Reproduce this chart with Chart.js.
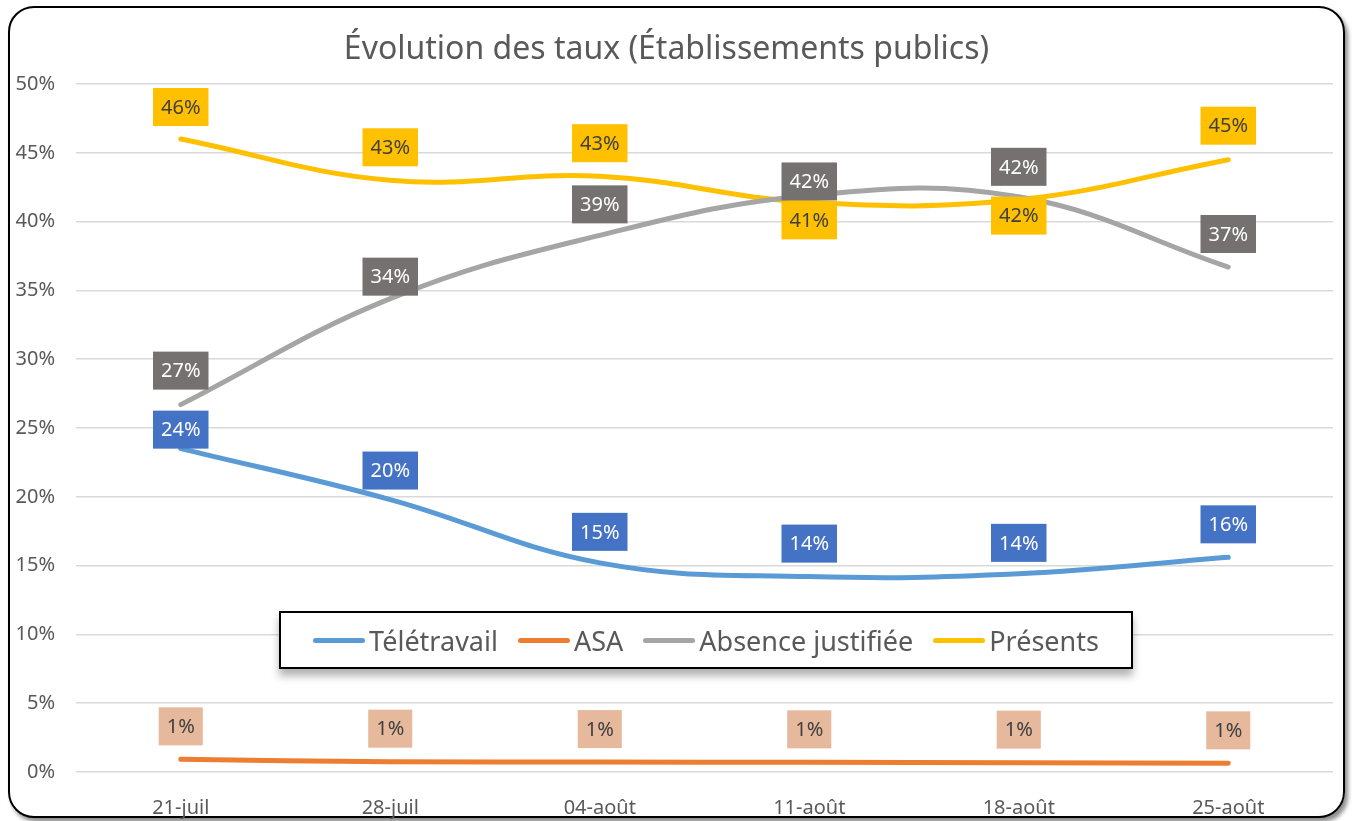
<!DOCTYPE html>
<html>
<head>
<meta charset="utf-8">
<script src="https://cdn.jsdelivr.net/npm/chart.js@4.4.1/dist/chart.umd.min.js"></script>
<style>
  body { margin: 0; background: #fff; font-family: "Noto Sans", sans-serif; }
  #wrap { position: relative; width: 1352px; height: 821px; overflow: hidden; }
  #frame {
    position: absolute; left: 8px; top: 6px; width: 1333px; height: 808px;
    border: 2px solid #000; border-radius: 26px;
    box-shadow: 3px 4px 4px rgba(0,0,0,0.45);
  }
  #chart { position: absolute; left: 0; top: 0; }
  #legend {
    position: absolute; left: 279px; top: 611px; width: 850px; height: 54px;
    border: 2px solid #000; background: #fff;
    box-shadow: 0 7px 8px rgba(0,0,0,0.3);
    display: flex; align-items: center; justify-content: center; gap: 20px;
    font-size: 27px; color: #595959;
  }
  .item { display: flex; align-items: center; }
  .swatch { width: 52px; height: 5px; border-radius: 3px; margin-right: 4px; }
</style>
</head>
<body>
<div id="wrap">
  <div id="frame"></div>
  <canvas id="chart" width="1352" height="821"></canvas>
  <div id="legend"></div>
</div>
<script>
const dates = ["21-juil", "28-juil", "04-août", "11-août", "18-août", "25-août"];

const teletravail = [23.5, 19.8, 15.2, 14.2, 14.4, 15.6];
const asa = [0.92, 0.75, 0.72, 0.7, 0.68, 0.63];
const absence = [26.7, 34.4, 39.0, 41.9, 41.8, 36.7];
const presents = [46.0, 43.0, 43.3, 41.4, 41.6, 44.5];

// label box vertical shift from the point (px), negative = above
const shiftTele = [-19, -29, -31, -33, -31, -33];
const shiftAsa = [-33, -33, -33, -33, -33, -33];
const shiftAbs = [-34, -22, -31, -14, -30, -33];
const shiftPres = [-32, -33, -33, 18, 16, -34];

const FONT = "Noto Sans";

const series = [
  { label: "Télétravail", data: teletravail, color: "#5B9BD5", bg: "#4472C4", text: "#ffffff", shift: shiftTele },
  { label: "ASA", data: asa, color: "#ED7D31", bg: "#E6B89C", text: "#404040", shift: shiftAsa },
  { label: "Absence justifiée", data: absence, color: "#A5A5A5", bg: "#767171", text: "#ffffff", shift: shiftAbs },
  { label: "Présents", data: presents, color: "#FFC000", bg: "#FFC000", text: "#404040", shift: shiftPres }
];

const boxLabels = {
  id: "boxLabels",
  afterDatasetsDraw(chart) {
    const ctx = chart.ctx;
    ctx.save();
    ctx.font = "20px '" + FONT + "'";
    ctx.textAlign = "center";
    ctx.textBaseline = "middle";
    chart.data.datasets.forEach((ds, di) => {
      const s = series[di];
      chart.getDatasetMeta(di).data.forEach((pt, i) => {
        const txt = Math.round(ds.data[i]) + "%";
        const w = ctx.measureText(txt).width + 16;
        const h = 38;
        const cy = pt.y + s.shift[i];
        ctx.fillStyle = s.bg;
        ctx.fillRect(pt.x - w / 2, cy - h / 2, w, h);
        ctx.fillStyle = s.text;
        ctx.fillText(txt, pt.x, cy + 1);
      });
    });
    ctx.restore();
  }
};

const chart = new Chart(document.getElementById("chart"), {
  type: "line",
  data: {
    labels: dates,
    datasets: series.map(s => ({
      label: s.label,
      data: s.data,
      borderColor: s.color,
      backgroundColor: s.color,
      borderWidth: 5,
      borderCapStyle: "round",
      pointRadius: 0,
      tension: 0.4,
      fill: false
    }))
  },
  options: {
    responsive: false,
    animation: false,
    layout: { padding: { top: 31, left: 0, right: 19, bottom: 0 } },
    plugins: {
      legend: { display: false },
      tooltip: { enabled: false },
      title: {
        display: true,
        text: "Évolution des taux (Établissements publics)",
        color: "#595959",
        font: { family: FONT, size: 32, weight: "normal", lineHeight: 1.2 },
        padding: { top: 0, bottom: 14.6 }
      }
    },
    scales: {
      x: {
        offset: true,
        grid: { display: false },
        border: { display: false },
        ticks: { color: "#595959", font: { family: FONT, size: 20 }, padding: 16 },
        afterFit(scale) { scale.height = 49; }
      },
      y: {
        min: 0, max: 50,
        grid: { color: "#D9D9D9", lineWidth: 1.5, drawTicks: false },
        border: { display: false },
        ticks: {
          stepSize: 5, color: "#595959", font: { family: FONT, size: 20 }, padding: 21,
          callback: v => v + "%"
        },
        afterFit(scale) { scale.width = 76; }
      }
    }
  },
  plugins: [boxLabels]
});

const legend = document.getElementById("legend");
chart.data.datasets.forEach(ds => {
  const item = document.createElement("div");
  item.className = "item";
  const sw = document.createElement("span");
  sw.className = "swatch";
  sw.style.background = ds.borderColor;
  const tx = document.createElement("span");
  tx.textContent = ds.label;
  item.appendChild(sw);
  item.appendChild(tx);
  legend.appendChild(item);
});
</script>
</body>
</html>
